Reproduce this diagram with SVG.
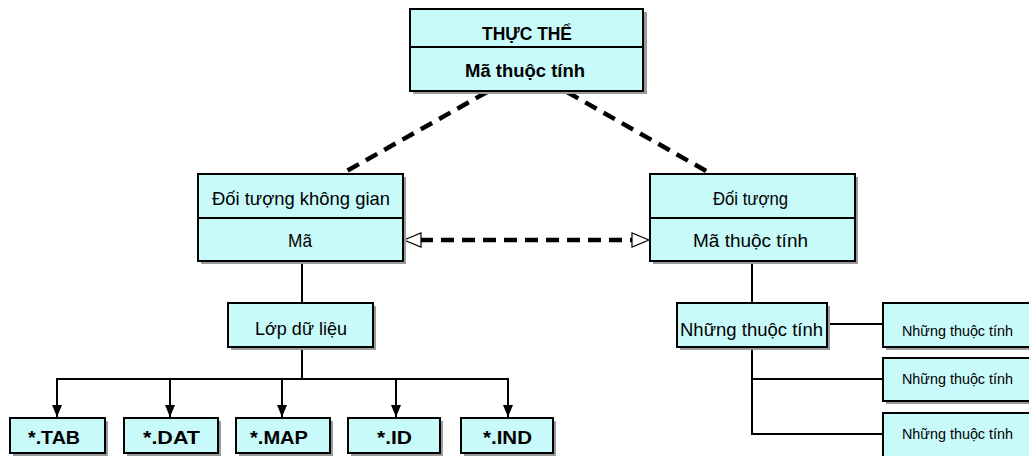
<svg xmlns="http://www.w3.org/2000/svg" width="1029" height="456" viewBox="0 0 1029 456">
  <style>
    .box { fill: #c9fafa; stroke: #000; stroke-width: 2; }
    .shadow { fill: #9a9a9a; }
    .div { stroke: #000; stroke-width: 2; }
    text { font-family: "Liberation Sans Narrow", "Liberation Sans", Arial, sans-serif; fill: #000; text-anchor: start; }
    .b { font-weight: bold; font-size: 18px; }
    .r { font-size: 19px; }
    .s { font-size: 14px; }
    .line { stroke: #000; stroke-width: 2; fill: none; }
    .dash { stroke: #000; stroke-width: 4.5; stroke-dasharray: 13 8; fill: none; }
  </style>
  <defs>
    <marker id="down" markerWidth="12" markerHeight="10" refX="12" refY="5" orient="auto" markerUnits="userSpaceOnUse" viewBox="0 0 12 10">
      <path d="M0,0 L12,5 L0,10 Z" fill="#000"/>
    </marker>
  </defs>
  <rect width="1029" height="456" fill="#fff"/>

  <!-- connectors -->
  <g id="connectors">
    <line class="dash" x1="487" y1="92" x2="345" y2="172"/>
    <line class="dash" x1="567" y1="92" x2="708" y2="172"/>
    <line class="dash" x1="420" y1="240" x2="632" y2="240"/>
    <path d="M404,240 L421,233 L421,247 Z" fill="#fff" stroke="#000" stroke-width="1.2"/>
    <path d="M649,240 L632,233 L632,247 Z" fill="#fff" stroke="#000" stroke-width="1.2"/>
    <!-- left tree -->
    <line class="line" x1="302" y1="262" x2="302" y2="303"/>
    <line class="line" x1="302" y1="347" x2="302" y2="379"/>
    <line class="line" x1="56" y1="379" x2="509" y2="379"/>
    <line class="line" x1="57" y1="379" x2="57" y2="417" marker-end="url(#down)"/>
    <line class="line" x1="170" y1="379" x2="170" y2="417" marker-end="url(#down)"/>
    <line class="line" x1="282" y1="379" x2="282" y2="417" marker-end="url(#down)"/>
    <line class="line" x1="396" y1="379" x2="396" y2="417" marker-end="url(#down)"/>
    <line class="line" x1="508" y1="379" x2="508" y2="417" marker-end="url(#down)"/>
    <!-- right tree -->
    <line class="line" x1="752" y1="262" x2="752" y2="303"/>
    <line class="line" x1="827" y1="324" x2="883" y2="324"/>
    <polyline class="line" points="752,347 752,434 883,434"/>
    <line class="line" x1="752" y1="379" x2="883" y2="379"/>
  </g>

  <g id="thuc-the">
    <rect class="shadow" x="413" y="12" width="234" height="82"/>
    <rect class="box" x="410" y="9" width="233" height="82"/>
    <line class="div" x1="410" y1="47" x2="643" y2="47"/>
    <text class="b" x="482" y="40" textLength="90" lengthAdjust="spacingAndGlyphs">THỰC THỂ</text>
    <text class="b" x="465" y="77" textLength="120" lengthAdjust="spacingAndGlyphs">Mã thuộc tính</text>
  </g>

  <g id="doi-tuong-khong-gian">
    <rect class="shadow" x="201" y="177" width="205" height="87"/>
    <rect class="box" x="198" y="174" width="205" height="87"/>
    <line class="div" x1="198" y1="218" x2="403" y2="218"/>
    <text class="r" x="212" y="205" textLength="178" lengthAdjust="spacingAndGlyphs">Đối tượng không gian</text>
    <text class="r" x="288" y="247" textLength="24" lengthAdjust="spacingAndGlyphs">Mã</text>
  </g>

  <g id="doi-tuong">
    <rect class="shadow" x="653" y="177" width="205" height="87"/>
    <rect class="box" x="650" y="174" width="205" height="87"/>
    <line class="div" x1="650" y1="218" x2="855" y2="218"/>
    <text class="r" x="713" y="205" textLength="75" lengthAdjust="spacingAndGlyphs">Đối tượng</text>
    <text class="r" x="693" y="247" textLength="115" lengthAdjust="spacingAndGlyphs">Mã thuộc tính</text>
  </g>

  <g id="lop-du-lieu">
    <rect class="shadow" x="231" y="306" width="145" height="44"/>
    <rect class="box" x="228" y="303" width="145" height="44"/>
    <text class="r" x="255" y="335" textLength="92" lengthAdjust="spacingAndGlyphs">Lớp dữ liệu</text>
  </g>

  <g id="tab">
    <rect class="shadow" x="13" y="421" width="95" height="35"/>
    <rect class="box" x="10" y="418" width="95" height="35"/>
    <text class="b" x="28" y="444" textLength="52" lengthAdjust="spacingAndGlyphs">*.TAB</text>
  </g>
  <g id="dat">
    <rect class="shadow" x="127" y="421" width="94" height="35"/>
    <rect class="box" x="124" y="418" width="94" height="35"/>
    <text class="b" x="143" y="444" textLength="57" lengthAdjust="spacingAndGlyphs">*.DAT</text>
  </g>
  <g id="map">
    <rect class="shadow" x="239" y="421" width="94" height="35"/>
    <rect class="box" x="236" y="418" width="94" height="35"/>
    <text class="b" x="250" y="444" textLength="58" lengthAdjust="spacingAndGlyphs">*.MAP</text>
  </g>
  <g id="id">
    <rect class="shadow" x="351" y="421" width="92" height="35"/>
    <rect class="box" x="348" y="418" width="92" height="35"/>
    <text class="b" x="377" y="444" textLength="35" lengthAdjust="spacingAndGlyphs">*.ID</text>
  </g>
  <g id="ind">
    <rect class="shadow" x="464" y="421" width="92" height="35"/>
    <rect class="box" x="461" y="418" width="92" height="35"/>
    <text class="b" x="483" y="444" textLength="49" lengthAdjust="spacingAndGlyphs">*.IND</text>
  </g>

  <g id="nhung-thuoc-tinh">
    <rect class="shadow" x="680" y="306" width="150" height="44"/>
    <rect class="box" x="677" y="303" width="150" height="44"/>
    <text class="r" x="680" y="336" textLength="143" lengthAdjust="spacingAndGlyphs">Những thuộc tính</text>
  </g>

  <g id="thuoc-tinh-1">
    <rect class="shadow" x="886" y="306" width="150" height="44"/>
    <rect class="box" x="883" y="303" width="150" height="44"/>
    <text class="s" x="902" y="336" textLength="111" lengthAdjust="spacingAndGlyphs">Những thuộc tính</text>
  </g>
  <g id="thuoc-tinh-2">
    <rect class="shadow" x="886" y="361" width="150" height="43"/>
    <rect class="box" x="883" y="358" width="150" height="43"/>
    <text class="s" x="902" y="384" textLength="111" lengthAdjust="spacingAndGlyphs">Những thuộc tính</text>
  </g>
  <g id="thuoc-tinh-3">
    <rect class="shadow" x="886" y="416" width="150" height="50"/>
    <rect class="box" x="883" y="413" width="150" height="50"/>
    <text class="s" x="902" y="439" textLength="111" lengthAdjust="spacingAndGlyphs">Những thuộc tính</text>
  </g>
</svg>
